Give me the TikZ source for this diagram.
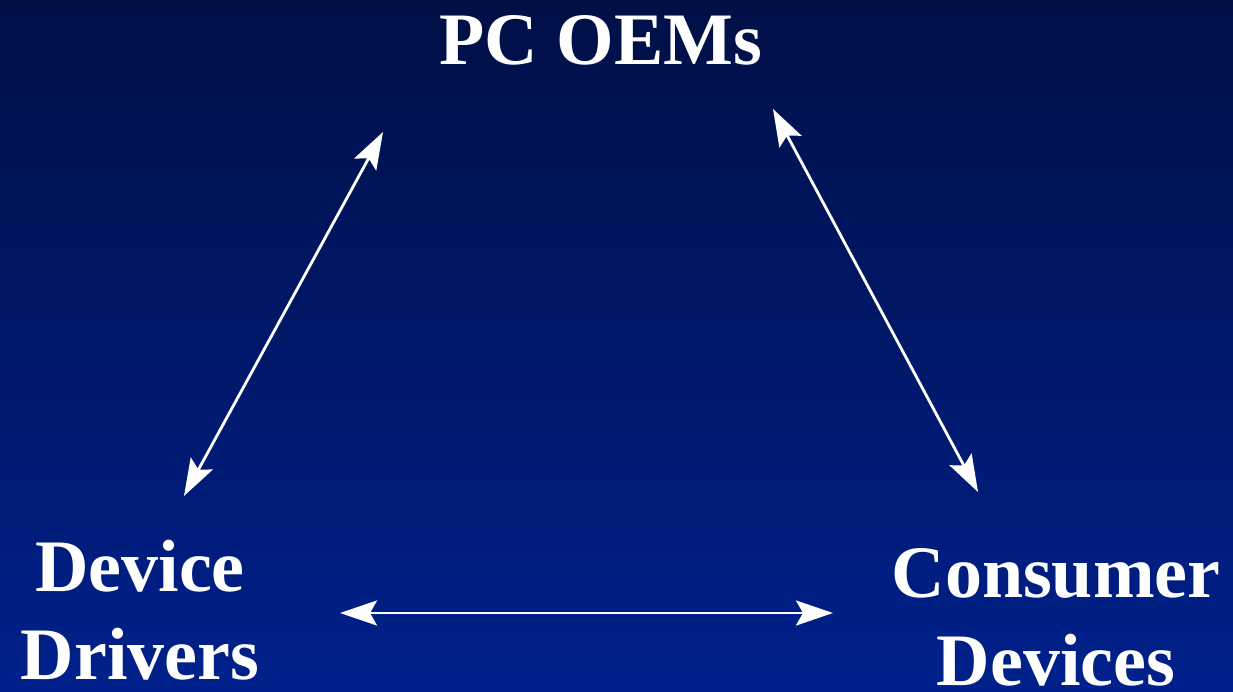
\documentclass[tikz,border=0pt]{standalone}
\usepackage{fontspec}
\setmainfont{Liberation Serif}
\usetikzlibrary{arrows.meta}
\definecolor{bgtop}{RGB}{0,15,70}
\definecolor{bgbot}{RGB}{0,33,140}
\tikzset{
  lbl/.style={text=white, font=\bfseries\fontsize{74}{88}\selectfont, align=center, inner sep=0pt, anchor=base},
  link/.style={draw=white, line width=2.8pt, {Stealth[length=37pt,width=25pt,inset=7pt]}-{Stealth[length=37pt,width=25pt,inset=7pt]}}
}
\begin{document}
\begin{tikzpicture}[x=1pt,y=-1pt]
\useasboundingbox (0,0) rectangle (1233,691);
\shade[top color=bgtop, bottom color=bgbot] (0,0) rectangle (1233,691);
\node[lbl] (pc) at (601,64) {PC OEMs};
\node[lbl] (dd) at (140,679) {Device\\Drivers};
\node[lbl] (cd) at (1056,685) {Consumer\\Devices};
\coordinate (a1) at (184,496);
\coordinate (a2) at (383,132);
\coordinate (b1) at (773,109);
\coordinate (b2) at (978,492);
\coordinate (c1) at (340,613);
\coordinate (c2) at (833,613);
\draw[link] (a1) -- (a2);
\draw[link] (b1) -- (b2);
\draw[link] (c1) -- (c2);
\end{tikzpicture}
\end{document}
